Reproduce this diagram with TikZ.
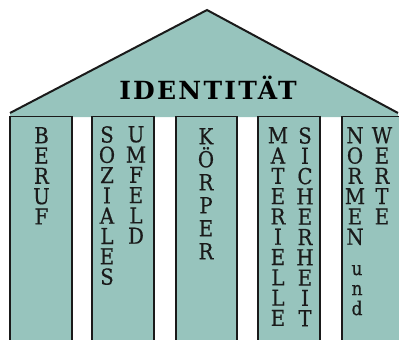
\documentclass[tikz,border=0pt]{standalone}
\usepackage{fontspec}
\setmainfont{DejaVu Serif}
\newfontfamily\pillarfont[FakeBold=0.5]{DejaVu Serif}
\definecolor{pil}{HTML}{97C4BD}
\definecolor{ink}{HTML}{1A1A1A}
\begin{document}
\begin{tikzpicture}[x=1pt,y=-1pt,
  edge/.style={draw=ink,line width=2pt},
  topedge/.style={draw=ink,line width=0.8pt},
  vtext/.style={font=\pillarfont\fontsize{22}{20.3}\selectfont, align=center, inner sep=0pt, anchor=north, text=ink, xscale=0.9},
  titletext/.style={font=\fontsize{25}{26}\bfseries\addfontfeature{LetterSpace=9}, inner sep=0pt, anchor=base, text=black}]
\useasboundingbox (0,0) rectangle (399,340);
% roof
\fill[pil] (10,117) -- (10,113) -- (207,10) -- (398,113) -- (398,117) -- cycle;
\draw[edge,line join=miter] (10,113) -- (207,10) -- (398,113);
% pillars
\foreach \a/\b in {10/72, 92/154, 176/237, 258/320}{
  \fill[pil] (\a,116) rectangle (\b,340);
  \draw[edge] (\a,116) -- (\a,340) (\b,116) -- (\b,340);
  \draw[topedge] (\a,116.5) -- (\b,116.5);
}
\fill[pil] (342,116) rectangle (399,340);
\draw[edge] (342,116) -- (342,340);
\draw[topedge] (342,116.5) -- (399,116.5);
% texts
\node[titletext] (identitaet) at (208,99) {IDENTITÄT};
\node[vtext] (beruf) at (41.5,127) {B\\E\\R\\U\\F};
\node[vtext] (soziales) at (107,126) {S\\O\\Z\\I\\A\\L\\E\\S};
\node[vtext] (umfeld) at (136,126) {U\\M\\F\\E\\L\\D};
\node[vtext, font=\pillarfont\fontsize{22}{23}\selectfont] (koerper) at (206,128) {K\\Ö\\R\\P\\E\\R};
\node[vtext] (materielle) at (278,127) {M\\A\\T\\E\\R\\I\\E\\L\\L\\E};
\node[vtext] (sicherheit) at (305,127) {S\\I\\C\\H\\E\\R\\H\\E\\I\\T};
\node[vtext] (normen) at (355,127) {N\\O\\R\\M\\E\\N};
\node[vtext, font=\pillarfont\fontsize{19}{20}\selectfont] (und) at (357,265) {u\\n\\d};
\node[vtext] (werte) at (382,127) {W\\E\\R\\T\\E};
\end{tikzpicture}
\end{document}
